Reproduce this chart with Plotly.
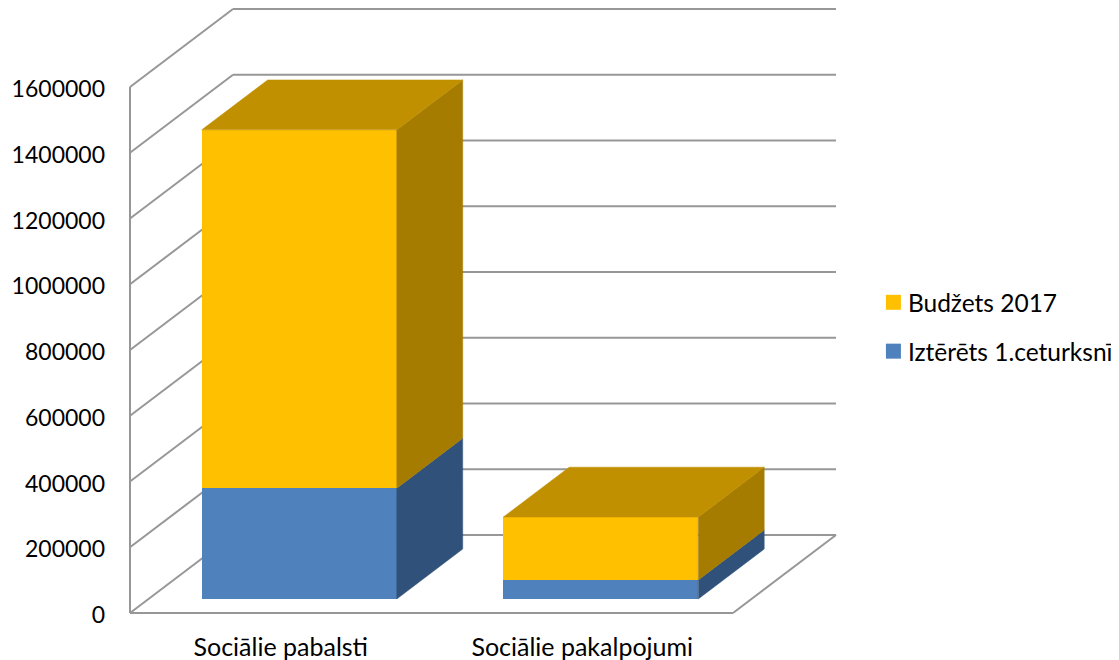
import plotly.graph_objects as go

categories = ["Sociālie pabalsti", "Sociālie pakalpojumi"]
spent = [337000, 58000]
budget = [1090000, 191000]
spent_name = "Iztērēts 1.ceturksnī"
budget_name = "Budžets 2017"
y_ticks = [0, 200000, 400000, 600000, 800000, 1000000, 1200000, 1400000, 1600000]

FONT = "Lato"
FS_Y = 23
FS_X = 25
FS_L = 24.5
TXT = "#000000"
GRID = "#979797"
YEL, YEL_TOP, YEL_SIDE = "#FFC000", "#C09000", "#A67C00"
BLU, BLU_SIDE = "#4F81BD", "#30527A"

# the page has an 8 px body margin, so the figure is 8 px smaller on each far side
PAGE = 8
W, H = 1111, 652

# oblique projection: pixel scale of the chart
CAT_PX = 301.5
VAL_PX = 65.75 / 200000
DX = 103 / CAT_PX
DY = 78 / VAL_PX
D0, D1 = 0.18, 0.82
BAR_W = 195 / CAT_PX
X0, X1 = -0.5, 1.5


def proj(x, v, d):
    return x + d * DX, v + d * DY


L_PX, R_PX, T_PX, B_PX = 124, 842, 8, 620
x_range = [X0 - (130 - L_PX) / CAT_PX, X0 + (R_PX - 130) / CAT_PX]
y_range = [-(B_PX - 613) / VAL_PX, (613 - T_PX) / VAL_PX]

fig = go.Figure()
shapes = []


def seg(a, b):
    shapes.append(dict(type="line", xref="x", yref="y", layer="below",
                       x0=a[0], y0=a[1], x1=b[0], y1=b[1],
                       line=dict(color=GRID, width=2)))


for v in y_ticks:
    seg((X0, v), proj(X0, v, 1))
    seg(proj(X0, v, 1), proj(X1, v, 1))
seg((X0, 0), (X0, y_ticks[-1]))
seg((X0, 0), (X1, 0))
seg((X1, 0), proj(X1, 0, 1))


def poly(pts, color):
    xs = [p[0] for p in pts] + [pts[0][0]]
    ys = [p[1] for p in pts] + [pts[0][1]]
    fig.add_trace(go.Scatter(x=xs, y=ys, mode="lines", fill="toself", fillcolor=color,
                             line=dict(color=color, width=0.5), hoverinfo="skip", showlegend=False))


def box(c, low, high, face, side, top=None):
    xl, xr = c - BAR_W / 2, c + BAR_W / 2
    fig.add_trace(go.Bar(x=[c + D0 * DX], y=[high - low], base=[low + D0 * DY], width=BAR_W,
                         marker=dict(color=face, line=dict(width=0)), showlegend=False, hoverinfo="y"))
    poly([proj(xr, low, D0), proj(xr, low, D1), proj(xr, high, D1), proj(xr, high, D0)], side)
    if top:
        poly([proj(xl, high, D0), proj(xl, high, D1), proj(xr, high, D1), proj(xr, high, D0)], top)


for i in range(len(categories)):
    box(i, 0, spent[i], BLU, BLU_SIDE)
    box(i, spent[i], spent[i] + budget[i], YEL, YEL_SIDE, YEL_TOP)

fig.add_trace(go.Scatter(x=[None], y=[None], name=budget_name, mode="markers", legendgroup="b",
                         marker=dict(symbol="square", size=15, color=YEL)))
fig.add_trace(go.Scatter(x=[None], y=[None], name=spent_name, mode="markers", legendgroup="s",
                         marker=dict(symbol="square", size=15, color=BLU)))

fig.update_layout(
    width=W, height=H, autosize=False,
    margin=dict(l=L_PX - PAGE, r=W - (R_PX - PAGE), t=T_PX - PAGE, b=H - (B_PX - PAGE), pad=0, autoexpand=False),
    paper_bgcolor="white", plot_bgcolor="rgba(0,0,0,0)",
    barmode="overlay", bargap=0,
    font=dict(family=FONT, size=FS_Y, color=TXT),
    shapes=shapes,
    showlegend=True,
    legend=dict(xref="container", yref="container", x=0.774, y=0.583, xanchor="left", yanchor="top",
                tracegroupgap=14, itemwidth=30, bgcolor="rgba(0,0,0,0)",
                font=dict(family=FONT, size=FS_L, color=TXT)),
    xaxis=dict(range=x_range, tickmode="array", tickvals=[0, 1], ticktext=categories, automargin=False,
               showgrid=False, zeroline=False, showline=False, ticks="", ticklabelstandoff=10,
               tickfont=dict(family=FONT, size=FS_X, color=TXT), fixedrange=True),
    yaxis=dict(range=y_range, tickmode="array", tickvals=y_ticks, ticktext=[str(v) for v in y_ticks], automargin=False,
               showgrid=False, zeroline=False, showline=False, ticks="", ticklabelstandoff=18,
               ticklabelshift=2,
               tickfont=dict(family=FONT, size=FS_Y, color=TXT), fixedrange=True),
)
fig.write_html(
    "out.html",
    post_script="document.querySelectorAll('.legendsymbols').forEach(function(e){e.setAttribute('transform','translate(5.5,0)');});",
)
